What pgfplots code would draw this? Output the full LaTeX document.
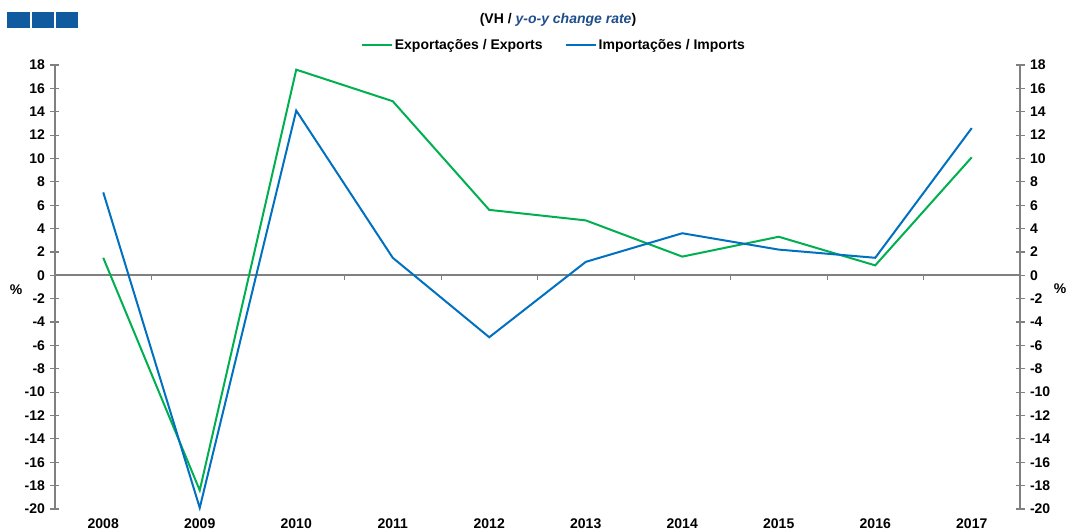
\documentclass[border=0pt]{standalone}
\usepackage{fontspec}
\setmainfont{Liberation Sans}
\usepackage{pgfplots}
\usepackage{pgfplotstable}
\pgfplotsset{compat=1.18}

\definecolor{expgreen}{RGB}{0,176,80}
\definecolor{impblue}{RGB}{0,112,192}
\definecolor{axgray}{RGB}{128,128,128}
\definecolor{boxblue}{RGB}{16,90,160}
\definecolor{subblue}{RGB}{31,78,140}

% y-o-y change rate, %
\pgfplotstableread{
x exports imports
0 1.5 7.1
1 -18.4 -19.9
2 17.6 14.1
3 14.9 1.5
4 5.6 -5.3
5 4.7 1.15
6 1.6 3.6
7 3.3 2.2
8 0.85 1.5
9 10.1 12.6
}\tradedata

\pgfplotsset{
  common/.style={
    scale only axis, width=965pt, height=444pt,
    at={(55pt,23pt)}, anchor=south west,
    xmin=-0.5, xmax=9.5, ymin=-20, ymax=18,
    ytick={-20,-18,...,18},
    tick align=center, major tick length=9pt,
    y axis line style={axgray, line width=2pt},
    ytick style={axgray, line width=1.2pt},
    /pgf/number format/assume math mode=true,
    ticklabel style={font=\bfseries\fontsize{14}{16}\selectfont},
    clip=false,
  }
}

\begin{document}
\begin{tikzpicture}[x=1pt,y=1pt]
\useasboundingbox (0,0) rectangle (1074,532);

\fill[boxblue] (7,504) rectangle (30,520);
\fill[boxblue] (32,504) rectangle (54,520);
\fill[boxblue] (56,504) rectangle (78,520);

\node[font=\bfseries\fontsize{14}{16}\selectfont] at (558,512)
  {(VH / \textcolor{subblue}{\itshape y-o-y change rate})};

\node[font=\bfseries\fontsize{14}{16}\selectfont] at (16,242) {\%};
\node[font=\bfseries\fontsize{14}{16}\selectfont] at (1060,243) {\%};

\begin{axis}[common,
  axis y line*=left,
  axis x line*=bottom,
  x axis line style={draw=none},
  xtick={0,...,9},
  xticklabels={2008,2009,2010,2011,2012,2013,2014,2015,2016,2017},
  xtick style={draw=none},
  xticklabel style={yshift=-2pt},
  yticklabel style={xshift=-2pt},
  legend columns=2,
  legend style={draw=none, fill=none, at={(0.517,1.045)}, anchor=center,
    font=\bfseries\fontsize{14}{16}\selectfont,
    /tikz/every even column/.append style={column sep=20pt}},
  legend image code/.code={\draw[#1] (0pt,0pt) -- (30pt,0pt);},
]
\addplot[axgray, line width=2pt, forget plot] coordinates {(-0.5,0) (9.5,0)};
\pgfplotsinvokeforeach{0.5,1.5,2.5,3.5,4.5,5.5,6.5,7.5,8.5}{
  \draw[axgray, line width=1pt] (axis cs:#1,0) -- ++(0pt,-5pt);
}
\addplot[expgreen, line width=2pt, mark=none] table[x=x, y=exports] {\tradedata};
\addlegendentry{Exportações / Exports}
\addplot[impblue, line width=2pt, mark=none] table[x=x, y=imports] {\tradedata};
\addlegendentry{Importações / Imports}
\end{axis}

\begin{axis}[common,
  axis y line*=right,
  axis x line=none,
  yticklabel style={xshift=2pt},
]
\end{axis}
\end{tikzpicture}
\end{document}
